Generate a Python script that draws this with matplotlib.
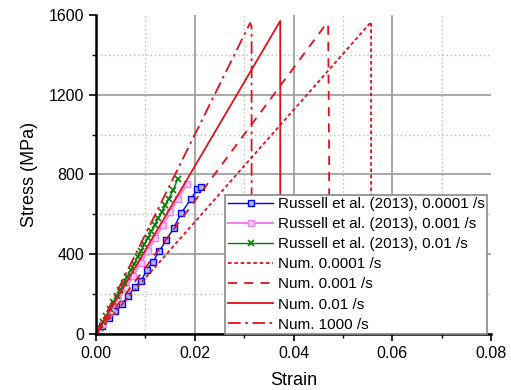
import matplotlib.pyplot as plt
import matplotlib
matplotlib.rcParams['font.family'] = ['Liberation Sans', 'DejaVu Sans']

# Russell et al. (2013) experimental data
exp1_strain = [0.0, 0.0013, 0.0026, 0.0039, 0.0052, 0.0065, 0.0078, 0.0091, 0.0103, 0.0115,
               0.0128, 0.0142, 0.0157, 0.0172, 0.0192, 0.0205, 0.0212]
exp1_stress = [0, 38, 78, 115, 150, 191, 234, 266, 321, 363, 415, 471, 530, 605, 676, 726, 735]

exp2_strain = [0.0, 0.0015, 0.0030, 0.0045, 0.0060, 0.0075, 0.0090, 0.0105, 0.0120, 0.0135,
               0.0150, 0.0165, 0.0184]
exp2_stress = [0, 52, 112, 172, 232, 292, 355, 418, 480, 545, 610, 675, 750]

exp3_strain = [0.0, 0.0007, 0.0014, 0.0021, 0.0028, 0.0035, 0.0042, 0.0049, 0.0056, 0.0063,
               0.0070, 0.0077, 0.0084, 0.0091, 0.0098, 0.0105, 0.0112, 0.0119, 0.0126,
               0.0133, 0.0140, 0.0147, 0.0156, 0.0165]
exp3_stress = [0, 28, 60, 92, 125, 158, 190, 222, 255, 288, 320, 352, 385, 418, 450, 482,
               515, 548, 580, 612, 645, 678, 720, 776]

# Numerical results
num1_strain = [0.0, 0.0557, 0.0557]
num1_stress = [0, 1565, 0]
num2_strain = [0.0, 0.0466, 0.0470, 0.0472, 0.0472]
num2_stress = [0, 1555, 1555, 900, 0]
num3_strain = [0.0, 0.0373, 0.0373]
num3_stress = [0, 1570, 0]
num4_strain = [0.0, 0.0312, 0.0315, 0.0315]
num4_stress = [0, 1560, 1540, 0]

fig = plt.figure(figsize=(5.11, 3.9), dpi=100)
ax = fig.add_axes([0.188, 0.1436, 0.773, 0.818])

ax.plot(exp1_strain, exp1_stress, color='blue', lw=1, marker='s', ms=4.5,
        mfc='#aab4ff', mec='blue', mew=1, label='Russell et al. (2013), 0.0001 /s')
ax.plot(exp2_strain, exp2_stress, color='violet', lw=1.5, marker='s', ms=4.5,
        mfc='#f3d0f3', mec='violet', label='Russell et al. (2013), 0.001 /s')
ax.plot(exp3_strain, exp3_stress, color='green', lw=1, marker='x', ms=5, mew=1.2,
        label='Russell et al. (2013), 0.01 /s')
ax.plot(num1_strain, num1_stress, color='#e0101a', lw=1.3, ls=(0, (2, 1.5)), label='Num. 0.0001 /s')
ax.plot(num2_strain, num2_stress, color='#e0101a', lw=1.3, ls=(0, (5, 4)), label='Num. 0.001 /s')
ax.plot(num3_strain, num3_stress, color='#e0101a', lw=1.3, label='Num. 0.01 /s')
ax.plot(num4_strain, num4_stress, color='#e0101a', lw=1.3, ls=(0, (7, 2.5, 1.5, 2.5)), label='Num. 1000 /s')

ax.set_xlim(0, 0.08)
ax.set_ylim(0, 1600)
ax.set_xticks([0.0, 0.02, 0.04, 0.06, 0.08])
ax.set_xticklabels(['0.00', '0.02', '0.04', '0.06', '0.08'])
ax.set_yticks([0, 400, 800, 1200, 1600])
ax.set_xticks([0.01, 0.03, 0.05, 0.07], minor=True)
ax.set_yticks([200, 600, 1000, 1400], minor=True)

ax.grid(which='major', color='#999999', lw=1.2, ls='-')
ax.grid(which='minor', color='#bbbbbb', lw=1, ls=(0, (1, 2)))
ax.xaxis.get_gridlines()[-1].set_visible(False)
ax.yaxis.get_gridlines()[-1].set_visible(False)
ax.set_axisbelow(True)

for s in ['top', 'right']:
    ax.spines[s].set_visible(False)
for s in ['left', 'bottom']:
    ax.spines[s].set_linewidth(1.8)
ax.tick_params(which='major', direction='out', length=5, width=1.2, labelsize=11.5)
ax.tick_params(which='minor', direction='out', length=3, width=1)

ax.set_xlabel('Strain', fontsize=13, labelpad=8)
ax.set_ylabel('Stress (MPa)', fontsize=13, labelpad=8)

leg = ax.legend(loc='lower right', fontsize=11, frameon=True, fancybox=False,
                edgecolor='#888888', framealpha=1, borderpad=0.15, labelspacing=0.4,
                handlelength=3.0, handletextpad=0.3, borderaxespad=0.0,
                bbox_to_anchor=(0.99, 0.0))
leg.get_frame().set_linewidth(1.2)

plt.savefig('out.png', dpi=100)
